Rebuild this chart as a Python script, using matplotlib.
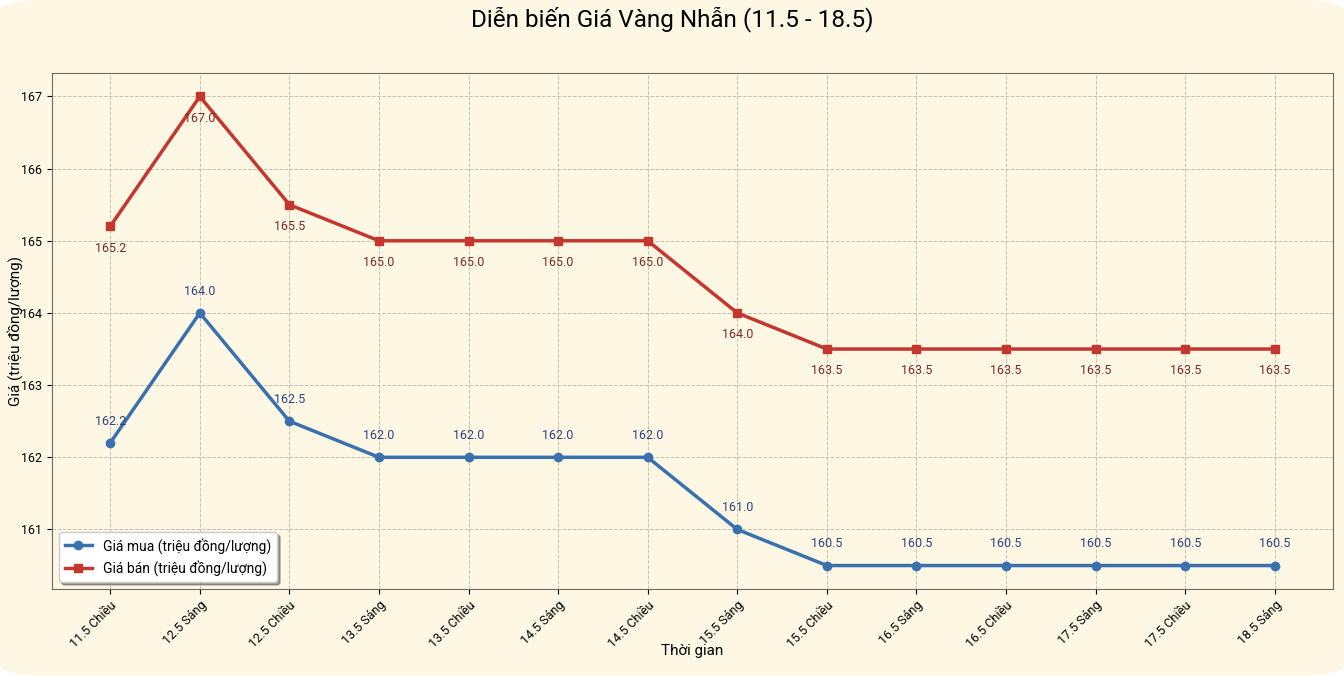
import numpy as np
import matplotlib.pyplot as plt
from matplotlib.patches import FancyBboxPatch

plt.rcParams['font.family'] = ['Roboto', 'DejaVu Sans']

# data
times = ["11.5 Chiều", "12.5 Sáng", "12.5 Chiều", "13.5 Sáng", "13.5 Chiều",
         "14.5 Sáng", "14.5 Chiều", "15.5 Sáng", "15.5 Chiều", "16.5 Sáng",
         "16.5 Chiều", "17.5 Sáng", "17.5 Chiều", "18.5 Sáng"]
gia_mua = [162.2, 164.0, 162.5, 162.0, 162.0, 162.0, 162.0, 161.0,
           160.5, 160.5, 160.5, 160.5, 160.5, 160.5]
gia_ban = [165.2, 167.0, 165.5, 165.0, 165.0, 165.0, 165.0, 164.0,
           163.5, 163.5, 163.5, 163.5, 163.5, 163.5]

bg = "#fdf7e4"
blue = "#3a70ad"
red = "#c3372f"

fig = plt.figure(figsize=(13.44, 6.76), dpi=100, facecolor="white")
# rounded cream panel
fig.patches.append(FancyBboxPatch((0.0, 0.0), 1.0, 1.0, boxstyle="round,pad=0,rounding_size=0.035",
                                  transform=fig.transFigure, facecolor=bg, edgecolor="none",
                                  mutation_aspect=676 / 1344, zorder=-10))
ax = fig.add_axes([52 / 1344, 1 - 589 / 676, (1333 - 52) / 1344, (589 - 73) / 676])
ax.set_facecolor(bg)

x = np.arange(len(times))
ax.plot(x, gia_mua, color=blue, marker="o", markersize=6, linewidth=2.5,
        label="Giá mua (triệu đồng/lượng)")
ax.plot(x, gia_ban, color=red, marker="s", markersize=6, linewidth=2.5,
        label="Giá bán (triệu đồng/lượng)")

for xi, v in zip(x, gia_mua):
    ax.annotate(f"{v:.1f}", (xi, v), xytext=(0, 11), textcoords="offset points",
                ha="center", va="bottom", fontsize=9, color="#2d4483")
for xi, v in zip(x, gia_ban):
    ax.annotate(f"{v:.1f}", (xi, v), xytext=(0, -11), textcoords="offset points",
                ha="center", va="top", fontsize=9, color="#7e2c27")

ax.set_xticks(x)
ax.set_xticklabels(times, rotation=45, ha="right", rotation_mode="anchor", fontsize=9)
ax.set_yticks([161, 162, 163, 164, 165, 166, 167])
ax.tick_params(axis="y", labelsize=9)
ax.grid(True, linestyle="--", color="#c4c2b4", linewidth=0.7)
for s in ax.spines.values():
    s.set_color("#6e6a60")

ax.set_xlabel("Thời gian", fontsize=11)
ax.set_ylabel("Giá (triệu đồng/lượng)", fontsize=11)
ax.xaxis.set_label_coords(0.5, -0.107)
ax.yaxis.set_label_coords(-0.023, 0.5)
fig.suptitle("Diễn biến Giá Vàng Nhẫn (11.5 - 18.5)", fontsize=17.5, y=0.99)

ax.legend(loc="lower left", fontsize=10, shadow=True, frameon=True, facecolor="white",
          framealpha=1, edgecolor="#cccccc", fancybox=True)

fig.savefig("out.png", dpi=100, facecolor=fig.get_facecolor())
